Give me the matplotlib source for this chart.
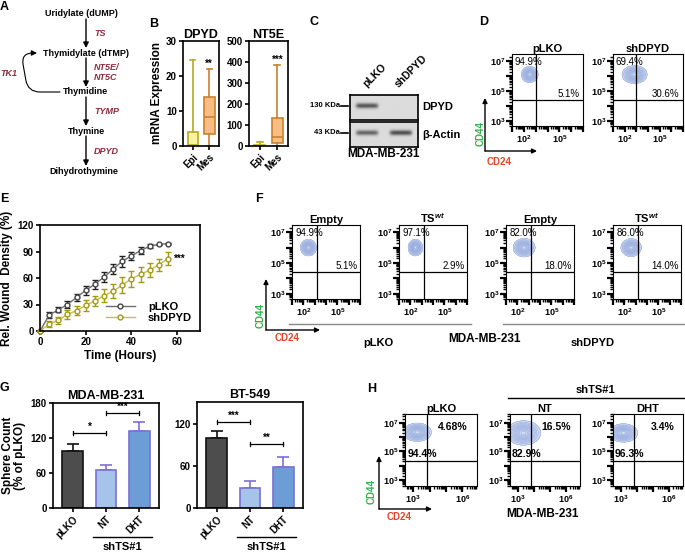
import numpy as np
import matplotlib
matplotlib.use('Agg')
import matplotlib.pyplot as plt
from matplotlib.patches import FancyArrowPatch
from matplotlib.ticker import FixedLocator, FuncFormatter
from matplotlib.transforms import blended_transform_factory

plt.rcParams['font.family'] = ['Liberation Sans', 'DejaVu Sans']
plt.rcParams['font.weight'] = 'bold'
plt.rcParams['axes.titleweight'] = 'bold'
plt.rcParams['axes.labelweight'] = 'bold'
plt.rcParams['mathtext.fontset'] = 'custom'
plt.rcParams['mathtext.rm'] = 'Liberation Sans'
plt.rcParams['mathtext.it'] = 'Liberation Sans:italic'
plt.rcParams['mathtext.bf'] = 'Liberation Sans:bold'
plt.rcParams['axes.linewidth'] = 1.2

# ---- A: pathway
pathway = ["Uridylate (dUMP)", "Thymidylate (dTMP)", "Thymidine", "Thymine", "Dihydrothymine"]
enzymes = ["TS", "NT5E/\nNT5C", "TYMP", "DPYD"]
salvage = "TK1"

# ---- B: boxplots  (whisker low, q1, median, q3, whisker high)
b_groups = ["Epi", "Mes"]
dpyd_box = [[0, 0, 0.3, 4, 24.5], [0, 3.5, 8.2, 14, 22]]
nt5e_box = [[0, 0, 2, 5, 20], [0, 12, 45, 132, 388]]
dpyd_star = "**"
nt5e_star = "***"

# ---- C: western blot
blot_lanes = ["pLKO", "shDPYD"]
blot_rows = ["DPYD", "β-Actin"]
blot_kda = ["130 KDa", "43 KDa"]
blot_intensity = [[0.85, 0.0], [0.75, 0.9]]

# ---- D: flow
d_titles = ["pLKO", "shDPYD"]
d_upper = ["94.9%", "69.4%"]
d_right = ["5.1%", "30.6%"]
d_blob = [(2.5, 6.1, 0.33, 0.25), (2.85, 6.1, 0.5, 0.28)]

# ---- E: wound healing
e_time = [0, 4, 8, 12, 16, 20, 24, 28, 32, 36, 40, 44, 48, 52, 56]
e_plko = [0, 18, 24, 30, 38, 46, 53, 61, 70, 79, 85, 91, 96, 98, 99]
e_plko_err = [0, 3, 3, 4, 4, 5, 5, 6, 6, 6, 5, 4, 2, 1, 1]
e_shdpyd = [0, 8, 12, 19, 23, 29, 34, 40, 45, 52, 59, 64, 69, 75, 82]
e_shdpyd_err = [0, 3, 4, 5, 5, 6, 6, 7, 8, 9, 9, 8, 8, 7, 7]

# ---- F: flow
f_titles = ["Empty", "TS$^{wt}$", "Empty", "TS$^{wt}$"]
f_upper = ["94.9%", "97.1%", "82.0%", "86.0%"]
f_right = ["5.1%", "2.9%", "18.0%", "14.0%"]
f_blob = [(2.45, 6.0, 0.33, 0.25), (2.45, 6.0, 0.3, 0.25),
          (2.6, 6.0, 0.45, 0.28), (2.6, 6.0, 0.42, 0.27)]
f_groups = ["pLKO", "shDPYD"]

# ---- G: sphere counts
g_groups = ["pLKO", "NT", "DHT"]
g_mda = [98, 65, 132]
g_mda_err = [12, 8, 15]
g_bt = [100, 28, 58]
g_bt_err = [10, 10, 15]
g_mda_sig = [(0, 1, 128, "*"), (1, 2, 163, "***")]
g_bt_sig = [(0, 1, 123, "***"), (1, 2, 91, "**")]

# ---- H: flow
h_titles = ["pLKO", "NT", "DHT"]
h_upper_right = ["4.68%", "16.5%", "3.4%"]
h_upper_left = ["94.4%", "82.9%", "96.3%"]
h_blob = [(3.25, 6.35, 0.4, 0.3), (3.35, 6.3, 0.5, 0.4), (3.15, 6.3, 0.42, 0.3)]

ENZ = '#8E2C3E'
FLOW_LINE = '#8CA3DA'
FLOW_FILL = '#D3DDF3'
GREEN = '#2DB34A'
RED = '#E8432A'

W, H = 685, 553
fig = plt.figure(figsize=(W / 100, H / 100), dpi=100)


def px_axes(l, t, r, b):
    return fig.add_axes([l / W, 1 - b / H, (r - l) / W, (b - t) / H])


def bold_ticks(ax):
    for t in ax.get_xticklabels() + ax.get_yticklabels():
        t.set_fontweight('bold')


ov = px_axes(0, 0, W, H)
ov.set_xlim(0, W)
ov.set_ylim(H, 0)
ov.axis('off')


def arrow(p0, p1, lw=1.0, ms=8, **kw):
    ov.add_patch(FancyArrowPatch(p0, p1, arrowstyle='-|>', mutation_scale=ms,
                                 color='k', lw=lw, shrinkA=0, shrinkB=0, **kw))


# panel letters
for lab, x, y in [("A", 4, 7), ("B", 154, 24), ("C", 314, 22), ("D", 484, 22),
                  ("E", 4, 199), ("F", 259, 199), ("G", 4, 388), ("H", 372, 389)]:
    ov.text(x, y, lab, fontsize=9, ha='center', va='center')

# ---- A
a_y = [14, 53, 92, 131, 171]
a_x = [81, 86, 85, 86, 84]
for name, x, y in zip(pathway, a_x, a_y):
    ov.text(x, y, name, fontsize=6.5, ha='center', va='center')
for i, enz in enumerate(enzymes):
    arrow((86, a_y[i] + 5), (86, a_y[i + 1] - 5))
    ov.text(94, (a_y[i] + a_y[i + 1]) / 2, enz, fontsize=6.5, color=ENZ,
            style='italic', ha='left', va='center', linespacing=1.1)
ov.add_patch(FancyArrowPatch((60, 92), (37, 53), arrowstyle='-|>', mutation_scale=8,
                             color='k', lw=0.8, shrinkA=0, shrinkB=0,
                             connectionstyle="arc,angleA=180,angleB=180,armA=32,armB=16,rad=12"))
ov.text(9, 74, salvage, fontsize=6.5, color=ENZ, style='italic', ha='center', va='center')

# ---- B
box_colors = [('#F7F3A0', '#B5AC1E'), ('#F8BD84', '#C9822F')]
for rect, boxes, title, top, step, star in [((183, 41, 219, 146), dpyd_box, 'DPYD', 30, 10, dpyd_star),
                                            ((249, 41, 288, 146), nt5e_box, 'NT5E', 500, 100, nt5e_star)]:
    ax = px_axes(*rect)
    stats = [dict(whislo=b[0], q1=b[1], med=b[2], q3=b[3], whishi=b[4], fliers=[]) for b in boxes]
    bp = ax.bxp(stats, positions=[1, 2], widths=0.65, patch_artist=True, showfliers=False)
    for i, (fc, ec) in enumerate(box_colors):
        bp['boxes'][i].set(facecolor=fc, edgecolor=ec, lw=1.2)
        bp['medians'][i].set(color=ec, lw=1.2)
        for art in bp['whiskers'][2 * i:2 * i + 2] + bp['caps'][2 * i:2 * i + 2]:
            art.set(color=ec, lw=1.2)
    ax.text(2, boxes[1][4], star, ha='center', va='bottom', fontsize=7)
    ax.set_xlim(0.4, 2.6)
    ax.set_ylim(0, top)
    ax.set_yticks(np.arange(0, top + 1, step))
    ax.set_xticks([1, 2])
    ax.set_xticklabels(b_groups, rotation=45, ha='right', rotation_mode='anchor', fontsize=7)
    ax.tick_params(labelsize=7, width=1.2, length=3, pad=1.5)
    bold_ticks(ax)
    ax.set_title(title, fontsize=9, pad=1.5)
    if title == 'DPYD':
        ax.set_ylabel('mRNA Expression', fontsize=8.5, labelpad=2)

# ---- C
for r, (rect, row, kda) in enumerate(zip([(350, 95, 418, 120), (350, 122, 418, 147)], blot_rows, blot_kda)):
    ax = px_axes(*rect)
    xs = np.linspace(-0.5, 1.5, 200)
    ys = np.linspace(0, 1, 60)
    gx, gy = np.meshgrid(xs, ys)
    img = np.full(gx.shape, 0.86)
    for lane, inten in enumerate(blot_intensity[r]):
        img -= 0.62 * inten * np.exp(-((gx - lane) / 0.33) ** 8) * np.exp(-((gy - 0.45) / 0.1) ** 2)
    ax.imshow(img, cmap='gray', vmin=0, vmax=1, extent=(-0.5, 1.5, 0, 1), aspect='auto')
    ax.set_xticks([])
    ax.set_yticks([])
    ymid = (rect[1] + rect[3]) / 2
    ov.text(rect[2] + 4, ymid, row, fontsize=8, ha='left', va='center')
    ov.text(340, ymid - 2, kda, fontsize=5.5, ha='right', va='center')
    ov.plot([341, 348], [ymid - 2, ymid - 2], color='k', lw=1.2)
for lane, (name, x) in enumerate(zip(blot_lanes, [368, 400])):
    ov.text(x, 89, name, fontsize=7.5, rotation=45, ha='left', va='bottom', rotation_mode='anchor')
ov.text(384, 154, "MDA-MB-231", fontsize=8.5, ha='center', va='center')


# ---- flow helper
def flow_plot(ax, xlim, ylim, xlabels, ylabels, gate, blob, title):
    gx, gy = np.meshgrid(np.linspace(*xlim, 200), np.linspace(*ylim, 200))
    cx, cy, sx, sy = blob
    dens = np.exp(-((gx - cx) ** 2 / (2 * sx ** 2) + (gy - cy) ** 2 / (2 * sy ** 2)))
    ax.contourf(gx, gy, dens, levels=[0.1, 1.01], colors=[FLOW_FILL])
    ax.contour(gx, gy, dens, levels=np.linspace(0.1, 0.95, 12), colors=FLOW_LINE, linewidths=0.35)
    ax.axvline(gate[0], color='k', lw=0.9)
    ax.axhline(gate[1], color='k', lw=0.9)
    ax.set_xlim(xlim)
    ax.set_ylim(ylim)
    for axis, lim, labs in ((ax.xaxis, xlim, xlabels), (ax.yaxis, ylim, ylabels)):
        dec = np.arange(np.ceil(lim[0]), np.floor(lim[1]) + 1)
        minors = [d + np.log10(k) for d in np.arange(np.floor(lim[0]), np.floor(lim[1]) + 1) for k in range(2, 10)]
        minors = [m for m in minors if lim[0] <= m <= lim[1]]
        axis.set_major_locator(FixedLocator(dec))
        axis.set_minor_locator(FixedLocator(minors))
        axis.set_major_formatter(FuncFormatter(
            lambda v, p, labs=labs: '$10^{%d}$' % round(v) if round(v) in labs else ''))
    ax.tick_params(which='major', length=4, width=1.6, labelsize=6.5, pad=1)
    ax.tick_params(which='minor', length=2.5, width=1.0)
    for s in ax.spines.values():
        s.set_linewidth(0.8)
    ax.set_title(title, fontsize=8, pad=1)


def axis_arrows(x0, y0, y1, x1, cd44_xy, cd24_xy):
    arrow((x0, y0), (x0, y1), lw=1.0, ms=7)
    arrow((x0, y0), (x1, y0), lw=1.0, ms=7)
    ov.text(*cd44_xy, "CD44", color=GREEN, fontsize=7, rotation=90, ha='center', va='center')
    ov.text(*cd24_xy, "CD24", color=RED, fontsize=7, ha='center', va='center')


# ---- D
for rect, title, up, rt, blob in zip([(512, 54, 583, 126), (613, 54, 683, 126)],
                                     d_titles, d_upper, d_right, d_blob):
    ax = px_axes(*rect)
    flow_plot(ax, (1, 7), (2.67, 7.47), [2, 5], [3, 5, 7], (3.0, 4.4), blob, title)
    ax.text(0.04, 0.89, up, transform=ax.transAxes, fontsize=7, fontweight='normal', va='center')
    ax.text(0.95, 0.44, rt, transform=ax.transAxes, fontsize=7, fontweight='normal', va='center', ha='right')
axis_arrows(485, 151, 98, 537, (481, 133), (499, 162))

# ---- E
ax = px_axes(40, 225, 200, 331)
ax.errorbar(e_time, e_plko, yerr=e_plko_err, color='#6E6E6E', ecolor='#222222', marker='o', ms=3.5,
            mfc='white', mec='#444444', lw=1, capsize=2, elinewidth=1, clip_on=False)
ax.errorbar(e_time, e_shdpyd, yerr=e_shdpyd_err, color='#C4BE4E', ecolor='#A39A10', marker='o', ms=3.5,
            mfc='white', mec='#A39A10', lw=1, capsize=2, elinewidth=1, clip_on=False)
ax.plot([], [], color='#6E6E6E', marker='o', ms=3.5, mfc='white', mec='#444444', lw=1, label='pLKO')
ax.plot([], [], color='#C4BE4E', marker='o', ms=3.5, mfc='white', mec='#A39A10', lw=1, label='shDPYD')
ax.text(e_time[-1] + 2.5, e_shdpyd[-1], "***", fontsize=7, va='center', ha='left')
ax.set_xlim(0, 70)
ax.set_ylim(0, 120)
ax.set_xticks([0, 20, 40, 60])
ax.set_yticks([0, 30, 60, 90, 120])
ax.tick_params(labelsize=7, width=1.2, length=3, pad=1.5)
bold_ticks(ax)
ax.set_xlabel("Time (Hours)", fontsize=8.5, labelpad=2)
ax.set_ylabel("Rel. Wound  Density (%)", fontsize=8.5, labelpad=3)
ax.legend(loc='lower right', bbox_to_anchor=(1.0, 0.0), frameon=False, fontsize=8,
          handlelength=2.6, labelspacing=0.1, handletextpad=1.2, borderaxespad=0.3)

# ---- F
f_rects = [(292, 225, 360, 299), (399, 225, 467, 299), (506, 225, 574, 299), (613, 225, 681, 299)]
for rect, title, up, rt, blob in zip(f_rects, f_titles, f_upper, f_right, f_blob):
    ax = px_axes(*rect)
    flow_plot(ax, (1, 7), (2.67, 7.47), [2, 5], [3, 5, 7], (3.2, 4.4), blob, title)
    ax.text(0.05, 0.89, up, transform=ax.transAxes, fontsize=7, fontweight='normal', va='center')
    ax.text(0.97, 0.45, rt, transform=ax.transAxes, fontsize=7, fontweight='normal', va='center', ha='right')
ov.plot([289, 471], [324, 324], color='#888888', lw=1)
ov.plot([503, 685], [324, 324], color='#888888', lw=1)
ov.text(378, 343, f_groups[0], fontsize=8, ha='center', va='center')
ov.text(485, 339, "MDA-MB-231", fontsize=8.5, ha='center', va='center')
ov.text(593, 343, f_groups[1], fontsize=8, ha='center', va='center')
axis_arrows(266, 330, 279, 320, (261, 316), (287, 338))

# ---- G
g_fc = ['#4D4D4D', '#A6C4EA', '#6C9DD6']
g_ec = ['#111111', '#7C6FD6', '#7C6FD6']
for rect, vals, errs, sig, title, top, yt in [((53, 403, 159, 508), g_mda, g_mda_err, g_mda_sig,
                                               'MDA-MB-231', 180, [0, 60, 120, 180]),
                                              ((197, 402, 303, 508), g_bt, g_bt_err, g_bt_sig,
                                               'BT-549', 151, [0, 60, 120])]:
    ax = px_axes(*rect)
    x = np.arange(len(g_groups))
    ax.bar(x, vals, width=0.63, color=g_fc, edgecolor=g_ec, lw=1.2, zorder=2)
    for i in range(len(x)):
        ax.errorbar(x[i], vals[i], yerr=[[0], [errs[i]]], color=g_ec[i], capsize=4,
                    elinewidth=1.2, capthick=1.2, zorder=1)
    ax.set_ylim(0, top)
    ax.set_xlim(-0.6, 2.6)
    ax.set_yticks(yt)
    d = top * 0.02
    for i, j, y, lab in sig:
        ax.plot([i, j], [y, y], color='k', lw=0.9)
        ax.plot([i, i], [y - d, y + d], color='k', lw=0.9)
        ax.plot([j, j], [y - d, y + d], color='k', lw=0.9)
        ax.text((i + j) / 2, y + d * 0.6, lab, ha='center', va='bottom', fontsize=7)
    ax.set_xticks(x)
    ax.set_xticklabels(g_groups, rotation=45, ha='right', rotation_mode='anchor', fontsize=7.5)
    ax.tick_params(labelsize=7, width=1.2, length=3, pad=1.5)
    bold_ticks(ax)
    ax.set_title(title, fontsize=9, pad=3)
    tr = blended_transform_factory(ax.transData, ax.transAxes)
    ax.plot([0.6, 2.4], [-0.275, -0.275], color='k', lw=1, transform=tr, clip_on=False)
    ax.text(1.5, -0.37, "shTS#1", transform=tr, ha='center', va='center', fontsize=8)
    if title == 'MDA-MB-231':
        ax.set_ylabel("Sphere Count\n(% of pLKO)", fontsize=8.5, labelpad=3, linespacing=1.0)

# ---- H
h_rects = [(405, 414, 477, 486), (510, 414, 580, 486), (613, 414, 683, 486)]
for rect, title, ur, ul, blob in zip(h_rects, h_titles, h_upper_right, h_upper_left, h_blob):
    ax = px_axes(*rect)
    flow_plot(ax, (2.5, 6.9), (2.58, 7.63), [3, 6], [3, 5, 7], (3.85, 4.33), blob, title)
    ax.text(0.875, 0.82, ur, transform=ax.transAxes, fontsize=7.5, va='center', ha='right')
    ax.text(0.03, 0.44, ul, transform=ax.transAxes, fontsize=7.5, va='center', ha='left')
ov.plot([508, 685], [398, 398], color='k', lw=1)
ov.text(595, 390, "shTS#1", fontsize=8, ha='center', va='center')
ov.text(543, 514, "MDA-MB-231", fontsize=8.5, ha='center', va='center')
axis_arrows(379, 509, 456, 432, (372, 492), (399, 517))

fig.savefig("out.png", dpi=100)
